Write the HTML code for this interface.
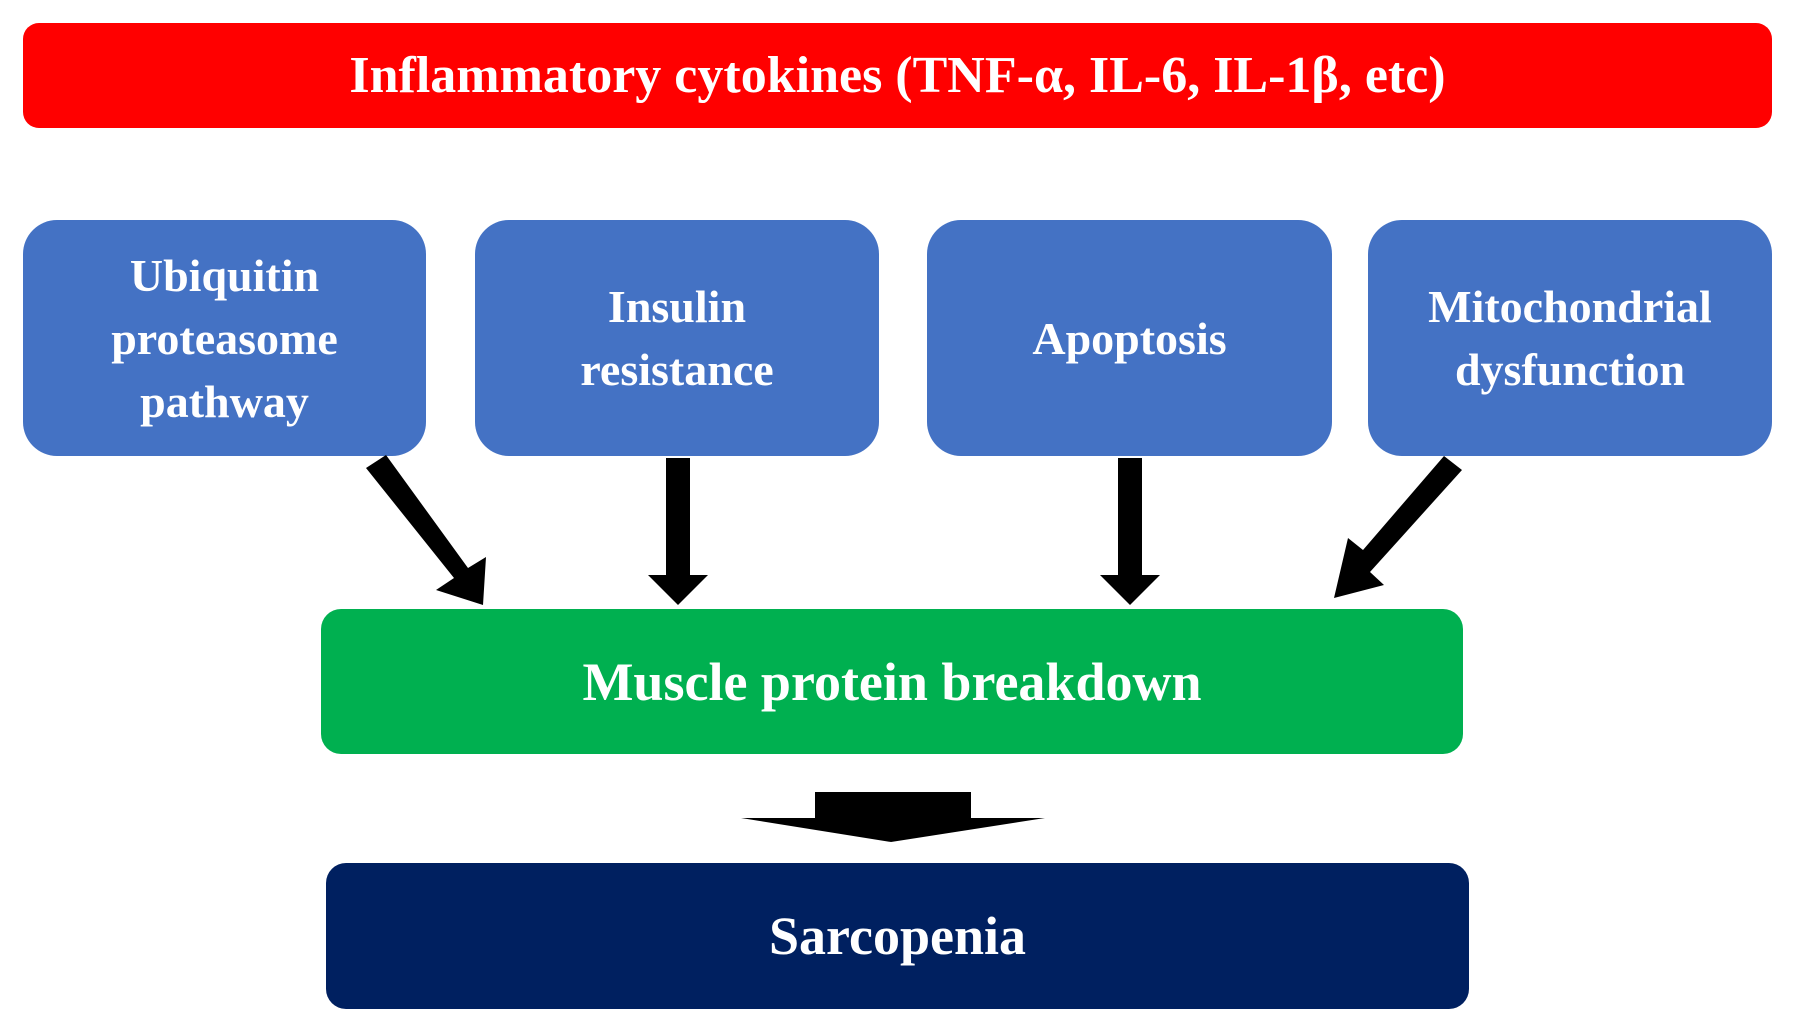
<!DOCTYPE html>
<html><head><meta charset="utf-8"><style>
html,body{margin:0;padding:0;background:#fff;}
body{width:1795px;height:1032px;position:relative;overflow:hidden;font-family:"Liberation Serif",serif;font-weight:bold;color:#fff;}
.b{position:absolute;display:flex;align-items:center;justify-content:center;text-align:center;}
</style></head><body>
<div class="b" style="left:23px;top:23px;width:1749px;height:105px;background:#ff0000;border-radius:16px;font-size:52px;">Inflammatory cytokines (TNF-α, IL-6, IL-1β, etc)</div>
<div class="b" style="left:23px;top:220px;width:403px;height:236px;background:#4472c4;border-radius:34px;font-size:46px;line-height:63px;">Ubiquitin<br>proteasome<br>pathway</div>
<div class="b" style="left:475px;top:220px;width:404px;height:236px;background:#4472c4;border-radius:34px;font-size:46px;line-height:63px;">Insulin<br>resistance</div>
<div class="b" style="left:927px;top:220px;width:405px;height:236px;background:#4472c4;border-radius:34px;font-size:46px;line-height:63px;">Apoptosis</div>
<div class="b" style="left:1368px;top:220px;width:404px;height:236px;background:#4472c4;border-radius:34px;font-size:46px;line-height:63px;">Mitochondrial<br>dysfunction</div>
<div class="b" style="left:321px;top:609px;width:1142px;height:145px;background:#00b050;border-radius:20px;font-size:54px;">Muscle protein breakdown</div>
<div class="b" style="left:326px;top:863px;width:1143px;height:146px;background:#002060;border-radius:20px;font-size:54px;">Sarcopenia</div>
<svg width="1795" height="1032" style="position:absolute;left:0;top:0">
<g fill="#000">
<rect x="666" y="458" width="24" height="118"/>
<polygon points="648,575 708,575 678,605"/>
<rect x="1118" y="458" width="24" height="118"/>
<polygon points="1100,575 1160,575 1130,605"/>
<polygon points="366,468 386,455 468,568 486,557 483,605 436,590 454,578"/>
<polygon points="1462,470 1444,456 1363,550 1348,538 1334,598 1384,585 1370,572"/>
<rect x="815" y="792" width="156" height="27"/>
<polygon points="741,818 1045,818 891,842"/>
</g></svg>
</body></html>
